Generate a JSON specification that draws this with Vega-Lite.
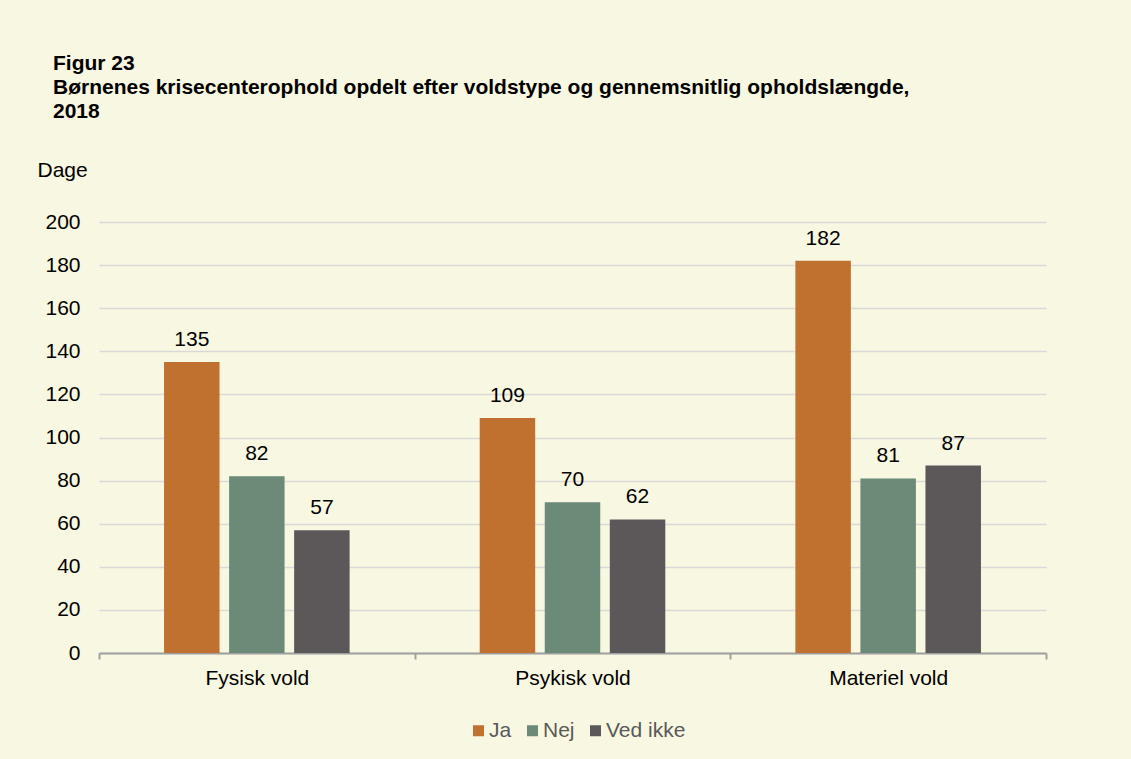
{
  "$schema": "https://vega.github.io/schema/vega-lite/v6.json",
  "width": 947,
  "height": 431,
  "autosize": {"type": "none"},
  "padding": {"left": 99, "top": 222, "right": 85, "bottom": 106},
  "background": "#f8f7e1",
  "config": {
    "font": "Liberation Sans",
    "view": {"stroke": null}
  },
  "title": {
    "text": ["Figur 23", "Børnenes krisecenterophold opdelt efter voldstype og gennemsnitlig opholdslængde,", "2018"],
    "anchor": "start",
    "frame": "group",
    "dx": -46,
    "font": "Liberation Sans",
    "fontSize": 21,
    "fontWeight": "bold",
    "color": "#000000",
    "lineHeight": 24,
    "offset": 37
  },
  "data": {
    "values": [
      {"type": "Fysisk vold", "svar": "Ja", "dage": 135},
      {"type": "Fysisk vold", "svar": "Nej", "dage": 82},
      {"type": "Fysisk vold", "svar": "Ved ikke", "dage": 57},
      {"type": "Psykisk vold", "svar": "Ja", "dage": 109},
      {"type": "Psykisk vold", "svar": "Nej", "dage": 70},
      {"type": "Psykisk vold", "svar": "Ved ikke", "dage": 62},
      {"type": "Materiel vold", "svar": "Ja", "dage": 182},
      {"type": "Materiel vold", "svar": "Nej", "dage": 81},
      {"type": "Materiel vold", "svar": "Ved ikke", "dage": 87}
    ]
  },
  "encoding": {
    "x": {
      "field": "type",
      "type": "nominal",
      "sort": ["Fysisk vold", "Psykisk vold", "Materiel vold"],
      "scale": {"paddingInner": 0, "paddingOuter": 0},
      "axis": {
        "title": null,
        "labelAngle": 0,
        "tickBand": "extent",
        "ticks": true,
        "tickSize": 6,
        "tickWidth": 2,
        "tickColor": "#a0a0a0",
        "domainColor": "#a0a0a0",
        "domainWidth": 2,
        "labelFontSize": 21,
        "labelColor": "#000000",
        "labelPadding": 8,
        "grid": false
      }
    },
    "xOffset": {
      "field": "svar",
      "type": "nominal",
      "sort": ["Ja", "Nej", "Ved ikke"],
      "scale": {"paddingInner": 0.147, "paddingOuter": 1.067}
    },
    "y": {
      "field": "dage",
      "type": "quantitative",
      "scale": {"domain": [0, 200], "nice": false},
      "axis": {
        "values": [0, 20, 40, 60, 80, 100, 120, 140, 160, 180, 200],
        "grid": true,
        "gridColor": "#d9d9d9",
        "gridWidth": 1.5,
        "domain": false,
        "ticks": false,
        "labelPadding": 19,
        "labelFontSize": 21,
        "labelColor": "#000000",
        "title": "Dage",
        "titleAngle": 0,
        "titleX": -62,
        "titleY": -52,
        "titleAlign": "left",
        "titleBaseline": "middle",
        "titleFontWeight": "normal",
        "titleFontSize": 21,
        "titleColor": "#000000"
      }
    }
  },
  "layer": [
    {
      "mark": {"type": "bar"},
      "encoding": {
        "color": {
          "field": "svar",
          "type": "nominal",
          "sort": ["Ja", "Nej", "Ved ikke"],
          "scale": {"domain": ["Ja", "Nej", "Ved ikke"], "range": ["#c0702f", "#6b8a78", "#5c5859"]},
          "legend": {
            "title": null,
            "orient": "none",
            "legendX": 369,
            "legendY": 498,
            "direction": "horizontal",
            "symbolType": "square",
            "symbolSize": 121,
            "symbolStrokeWidth": 0,
            "labelFontSize": 21,
            "labelColor": "#595959",
            "labelOffset": 0,
            "columnPadding": 10
          }
        }
      }
    },
    {
      "mark": {"type": "text", "dy": -16, "baseline": "alphabetic", "fontSize": 21, "color": "#000000"},
      "encoding": {"text": {"field": "dage", "type": "quantitative"}}
    }
  ]
}
